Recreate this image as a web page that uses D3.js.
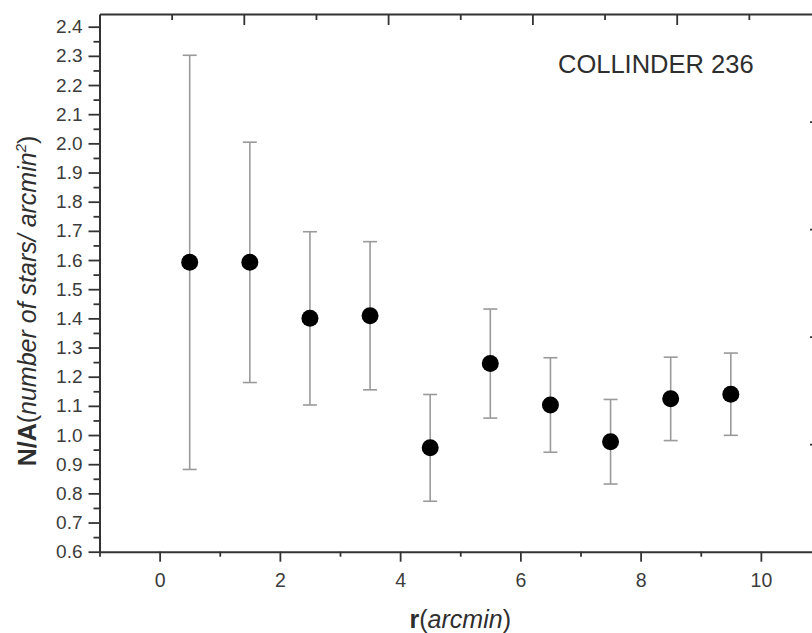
<!DOCTYPE html>
<html>
<head>
<meta charset="utf-8">
<script src="https://cdn.jsdelivr.net/npm/d3@7"></script>
<style>
  html, body { margin: 0; padding: 0; background: #fff; }
  svg { display: block; font-family: "Liberation Sans", Arial, sans-serif; }
</style>
</head>
<body>
<svg id="chart" width="812" height="633"></svg>
<script>
// Radial surface density profile of Collinder 236
const radius = [0.5, 1.5, 2.5, 3.5, 4.5, 5.5, 6.5, 7.5, 8.5, 9.5];
const density = [1.592, 1.592, 1.400, 1.409, 0.956, 1.245, 1.103, 0.977, 1.124, 1.140];
const densityErr = [0.710, 0.412, 0.297, 0.254, 0.183, 0.187, 0.162, 0.145, 0.143, 0.141];

const xTicks = [0, 2, 4, 6, 8, 10];
const xMinorTicks = [-1, 1, 3, 5, 7, 9, 11];
const yTicks = [0.6, 0.7, 0.8, 0.9, 1.0, 1.1, 1.2, 1.3, 1.4, 1.5, 1.6, 1.7, 1.8, 1.9, 2.0, 2.1, 2.2, 2.3, 2.4];
const yMinorTicks = [0.65, 0.75, 0.85, 0.95, 1.05, 1.15, 1.25, 1.35, 1.45, 1.55, 1.65, 1.75, 1.85, 1.95, 2.05, 2.15, 2.25, 2.35];
// opposite frame edges carry their own tick spacing
const frameTicks = [1, 2, 3, 4];
const frameMinorTicks = [0.5, 1.5, 2.5, 3.5, 4.5];

const clusterName = "COLLINDER 236";

const svg = d3.select("#chart");
const plotLeft = 99.5, plotRight = 821, plotTop = 14, plotBottom = 551.7;

const x = d3.scaleLinear().domain([-1, 11]).range([plotLeft, plotRight]);
const y = d3.scaleLinear().domain([0.6, 2.4435]).range([plotBottom, plotTop]);
const xTop = d3.scaleLinear().domain([0, 5]).range([plotLeft, plotRight]);
const yRight = d3.scaleLinear().domain([0, 5]).range([plotBottom, plotTop]);

const axisColor = "#333";
const labelColor = "#3c3c3c";

function styleAxis(g, width) {
  g.select(".domain").attr("stroke", axisColor).attr("stroke-width", width);
  g.selectAll(".tick line").attr("stroke", axisColor).attr("stroke-width", 1.8);
}

// bottom axis: minor ticks, then major ticks with labels
const gxMinor = svg.append("g").attr("transform", `translate(0,${plotBottom})`)
  .call(d3.axisBottom(x).tickValues(xMinorTicks).tickSize(5).tickFormat("").tickSizeOuter(0));
styleAxis(gxMinor, 0);
gxMinor.select(".domain").remove();
const gx = svg.append("g").attr("transform", `translate(0,${plotBottom})`)
  .call(d3.axisBottom(x).tickValues(xTicks).tickSize(10).tickSizeOuter(0).tickPadding(11));
styleAxis(gx, 2);
gx.selectAll(".tick text").attr("fill", labelColor).attr("font-size", 19.5);

// left axis
const gyMinor = svg.append("g").attr("transform", `translate(${plotLeft},0)`)
  .call(d3.axisLeft(y).tickValues(yMinorTicks).tickSize(6).tickFormat("").tickSizeOuter(0));
styleAxis(gyMinor, 0);
gyMinor.select(".domain").remove();
const gy = svg.append("g").attr("transform", `translate(${plotLeft},0)`)
  .call(d3.axisLeft(y).tickValues(yTicks).tickSize(11).tickSizeOuter(0).tickPadding(6).tickFormat(d3.format(".1f")));
styleAxis(gy, 2);
gy.selectAll(".tick text").attr("fill", labelColor).attr("font-size", 19);

// top edge, ticks pointing inward
const gtMinor = svg.append("g").attr("transform", `translate(0,${plotTop})`)
  .call(d3.axisBottom(xTop).tickValues(frameMinorTicks).tickSize(6).tickFormat("").tickSizeOuter(0));
styleAxis(gtMinor, 0);
gtMinor.select(".domain").remove();
const gt = svg.append("g").attr("transform", `translate(0,${plotTop})`)
  .call(d3.axisBottom(xTop).tickValues(frameTicks).tickSize(11).tickFormat("").tickSizeOuter(0));
styleAxis(gt, 2);

// right edge, ticks pointing inward
const grMinor = svg.append("g").attr("transform", `translate(${plotRight},0)`)
  .call(d3.axisLeft(yRight).tickValues(frameMinorTicks).tickSize(6).tickFormat("").tickSizeOuter(0));
styleAxis(grMinor, 0);
grMinor.select(".domain").remove();
const gr = svg.append("g").attr("transform", `translate(${plotRight},0)`)
  .call(d3.axisLeft(yRight).tickValues(frameTicks).tickSize(11).tickFormat("").tickSizeOuter(0));
styleAxis(gr, 2);

// error bars
const pts = radius.map((r, i) => ({ r, v: density[i], e: densityErr[i] }));
const capHalf = 7;
const eb = svg.append("g").attr("stroke", "#9a9a9a").attr("stroke-width", 1.6).attr("fill", "none");
eb.selectAll("line.stem").data(pts).join("line").attr("class", "stem")
  .attr("x1", d => x(d.r)).attr("x2", d => x(d.r))
  .attr("y1", d => y(d.v - d.e)).attr("y2", d => y(d.v + d.e));
eb.selectAll("line.capTop").data(pts).join("line").attr("class", "capTop")
  .attr("x1", d => x(d.r) - capHalf).attr("x2", d => x(d.r) + capHalf)
  .attr("y1", d => y(d.v + d.e)).attr("y2", d => y(d.v + d.e));
eb.selectAll("line.capBot").data(pts).join("line").attr("class", "capBot")
  .attr("x1", d => x(d.r) - capHalf).attr("x2", d => x(d.r) + capHalf)
  .attr("y1", d => y(d.v - d.e)).attr("y2", d => y(d.v - d.e));

// data points
svg.append("g").selectAll("circle").data(pts).join("circle")
  .attr("cx", d => x(d.r)).attr("cy", d => y(d.v)).attr("r", 8.5).attr("fill", "#000");

// cluster label
svg.append("text").attr("x", 558).attr("y", 73)
  .attr("font-size", 25.5).attr("fill", "#2e2e2e").text(clusterName);

// x axis title
const xt = svg.append("text").attr("x", (plotLeft + plotRight) / 2).attr("y", 628)
  .attr("text-anchor", "middle").attr("font-size", 25).attr("fill", "#2e2e2e");
xt.append("tspan").attr("font-weight", "bold").text("r");
xt.append("tspan").text("(");
xt.append("tspan").attr("font-style", "italic").text("arcmin");
xt.append("tspan").text(")");

// y axis title
const yt = svg.append("text")
  .attr("transform", "translate(36,301) rotate(-90)")
  .attr("text-anchor", "middle").attr("font-size", 25).attr("fill", "#2e2e2e");
yt.append("tspan").attr("font-weight", "bold").text("N/A");
yt.append("tspan").text("(");
yt.append("tspan").attr("font-style", "italic").text("number of stars/ arcmin");
yt.append("tspan").attr("font-style", "italic").attr("font-size", 15).attr("dy", -10).text("2");
yt.append("tspan").attr("dy", 10).text(")");
</script>
</body>
</html>
